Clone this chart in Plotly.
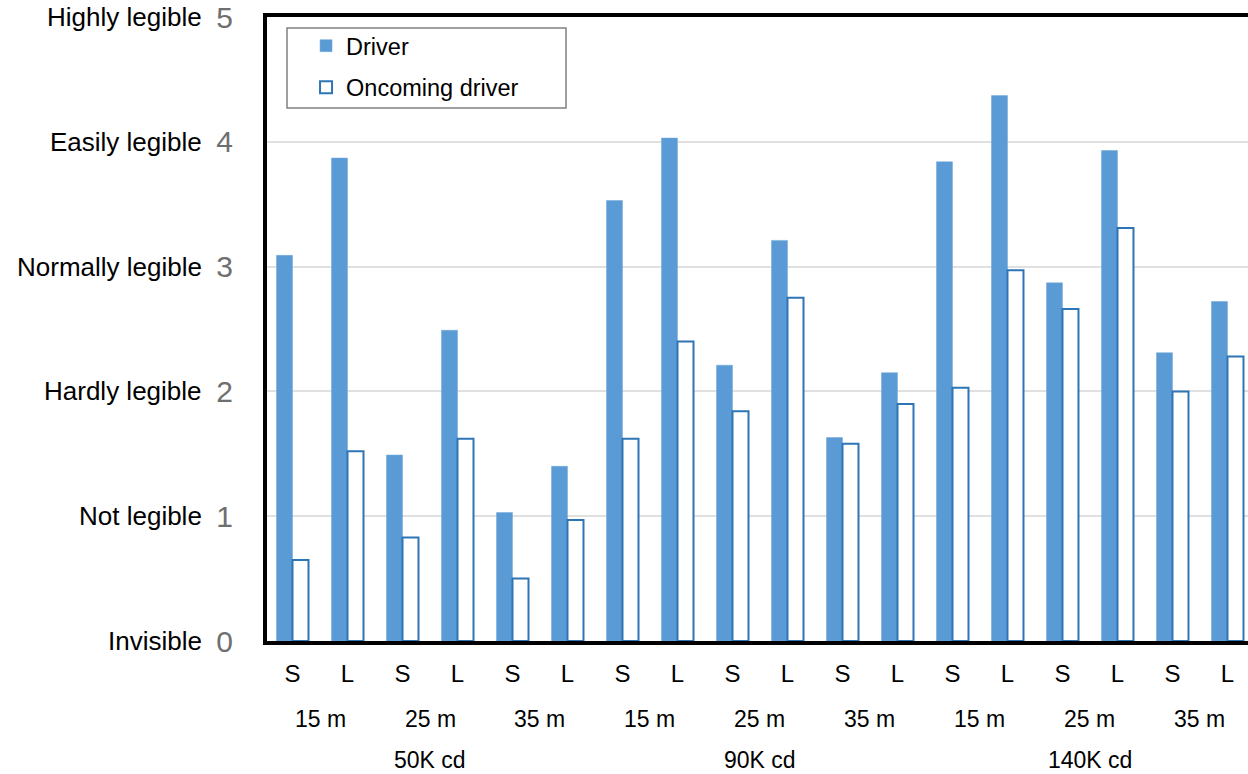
import plotly.graph_objects as go

# ---- data ----
cd_levels = ["50K cd", "90K cd", "140K cd"]
distances = ["15 m", "25 m", "35 m"]
sizes = ["S", "L"]
categories = [f"{c}|{d}|{s}" for c in cd_levels for d in distances for s in sizes]

driver = [3.09, 3.87, 1.49, 2.49, 1.03, 1.40,
          3.53, 4.03, 2.21, 3.21, 1.63, 2.15,
          3.84, 4.37, 2.87, 3.93, 2.31, 2.72]
oncoming = [0.65, 1.52, 0.83, 1.62, 0.50, 0.97,
            1.62, 2.40, 1.84, 2.75, 1.58, 1.90,
            2.03, 2.97, 2.66, 3.31, 2.00, 2.28]

y_ticks = [0, 1, 2, 3, 4, 5]
y_labels = ["Invisible", "Not legible", "Hardly legible", "Normally legible",
            "Easily legible", "Highly legible"]

FONT = "Liberation Sans, Arial, sans-serif"
DIGIT_FONT = "Liberation Sans Narrow, Arial Narrow, Liberation Sans, Arial, sans-serif"
xpos = list(range(len(categories)))

fig = go.Figure()
fig.add_trace(go.Bar(
    x=xpos, y=driver, name="Driver", legendgroup="a",
    marker=dict(color="#5B9BD5", line=dict(color="#6FA7DA", width=0.5)),
))
fig.add_trace(go.Bar(
    x=xpos, y=oncoming, name="Oncoming driver", legendgroup="b",
    marker=dict(color="white", line=dict(color="#2E75B6", width=2)),
))

# descriptive y labels
for v, lab in zip(y_ticks, y_labels):
    fig.add_annotation(x=-0.0642, xref="paper", y=v, yref="y", text=lab,
                       showarrow=False, xanchor="right", yanchor="middle",
                       font=dict(family=FONT, size=26, color="black"))

# distance labels and cd labels
n_s = len(sizes)
for ci, c in enumerate(cd_levels):
    for di, d in enumerate(distances):
        center = (ci * len(distances) + di) * n_s + (n_s - 1) / 2
        fig.add_annotation(x=center, xref="x", y=-0.125, yref="paper", text=d,
                           showarrow=False, xanchor="center", yanchor="middle",
                           font=dict(family=FONT, size=23, color="black"))
    cc = ci * len(distances) * n_s + (len(distances) * n_s - 1) / 2
    fig.add_annotation(x=cc, xref="x", y=-0.191, yref="paper", text=c,
                       showarrow=False, xanchor="center", yanchor="middle",
                       font=dict(family=FONT, size=23, color="black"))

# legend frame
fig.add_shape(type="rect", xref="paper", yref="paper",
              x0=0.0204, x1=0.3048, y0=0.8542, y1=0.9824,
              line=dict(color="#808080", width=1.5), fillcolor="white",
              layer="above")

fig.update_layout(
    width=1248, height=774,
    margin=dict(l=267, r=0, t=17, b=133),
    paper_bgcolor="white", plot_bgcolor="white",
    barmode="group", bargap=0.418, bargroupgap=0,
    font=dict(family=FONT, color="black"),
    legend=dict(x=0.0398, y=0.989, xanchor="left", yanchor="top",
                borderwidth=0, bgcolor="rgba(0,0,0,0)",
                font=dict(family=FONT, size=23.5, color="black"),
                itemwidth=30, tracegroupgap=8),
    xaxis=dict(
        range=[-0.4636, 17.373],
        tickmode="array", tickvals=xpos,
        ticktext=[c.split("|")[2] for c in categories],
        tickfont=dict(family=FONT, size=24, color="black"),
        showgrid=False, zeroline=False,
        showline=True, linecolor="black", linewidth=4, mirror=True,
        ticks="outside", ticklen=8, tickcolor="rgba(0,0,0,0)",
    ),
    yaxis=dict(
        range=[0, 5],
        tickmode="array", tickvals=y_ticks,
        ticktext=[str(v) for v in y_ticks],
        tickfont=dict(family=DIGIT_FONT, size=30, color="#6f6f6f"),
        ticklabeloverflow="allow",
        showgrid=True, gridcolor="#e0e0e0", gridwidth=1.5, zeroline=False,
        showline=True, linecolor="black", linewidth=4,
        ticks="outside", ticklen=24, tickcolor="rgba(0,0,0,0)",
    ),
)

fig.write_html("out.html",
               config={"displayModeBar": False},
               post_script="document.body.style.margin='0';")
